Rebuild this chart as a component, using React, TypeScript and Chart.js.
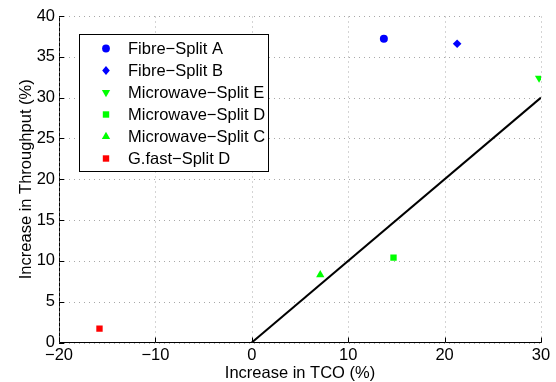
import React, { useEffect, useRef } from "react";
import { Chart, registerables } from "chart.js";

Chart.register(...registerables);

// ---- data ----
const seriesLabels = [
  "Fibre\u2212Split A",
  "Fibre\u2212Split B",
  "Microwave\u2212Split E",
  "Microwave\u2212Split D",
  "Microwave\u2212Split C",
  "G.fast\u2212Split D",
];
const tcoIncrease = [13.7, 21.3, 29.8, 14.7, 7.1, -15.8];
const throughputIncrease = [37.2, 36.6, 32.4, 10.4, 8.3, 1.7];
const refLineX = [0, 30];
const refLineY = [0, 30];
const xTicks = [-20, -10, 0, 10, 20, 30];
const yTicks = [0, 5, 10, 15, 20, 25, 30, 35, 40];

// ---- styles ----
const seriesColors = ["#0000ff", "#0000ff", "#00ff00", "#00ff00", "#00ff00", "#ff0000"];
const seriesShapes = ["circle", "diamond", "triDown", "square", "triUp", "square"];
const FONT = "'Liberation Sans', Arial, Helvetica, sans-serif";
const FS = 16.5;
const GRID_COLOR = "#a8a8a8";

function shapeProps(shape: string) {
  switch (shape) {
    case "circle":
      return { pointStyle: "circle", radius: 4, rotation: 0 };
    case "diamond":
      return { pointStyle: "rectRot", radius: 4.3, rotation: 0 };
    case "triDown":
      return { pointStyle: "triangle", radius: 4.8, rotation: 180 };
    case "triUp":
      return { pointStyle: "triangle", radius: 4.8, rotation: 0 };
    default:
      return { pointStyle: "rect", radius: 4.5, rotation: 0 };
  }
}

function drawMarker(ctx: CanvasRenderingContext2D, shape: string, x: number, y: number, color: string) {
  ctx.save();
  ctx.fillStyle = color;
  ctx.beginPath();
  if (shape === "circle") {
    ctx.arc(x, y, 3.9, 0, Math.PI * 2);
  } else if (shape === "diamond") {
    ctx.moveTo(x, y - 4.4);
    ctx.lineTo(x + 3.8, y);
    ctx.lineTo(x, y + 4.4);
    ctx.lineTo(x - 3.8, y);
    ctx.closePath();
  } else if (shape === "triDown") {
    const r = 4.8;
    ctx.moveTo(x, y + r);
    ctx.lineTo(x + r * 0.866, y - r / 2);
    ctx.lineTo(x - r * 0.866, y - r / 2);
    ctx.closePath();
  } else if (shape === "triUp") {
    const r = 4.8;
    ctx.moveTo(x, y - r);
    ctx.lineTo(x + r * 0.866, y + r / 2);
    ctx.lineTo(x - r * 0.866, y + r / 2);
    ctx.closePath();
  } else {
    const h = 3.2;
    ctx.rect(x - h, y - h, 2 * h, 2 * h);
  }
  ctx.fill();
  ctx.restore();
}

const fmt = (v: number) => (v < 0 ? "\u2212" + Math.abs(v) : String(v));

const gridPlugin = {
  id: "dottedGrid",
  beforeDatasetsDraw(chart: any) {
    const ctx: CanvasRenderingContext2D = chart.ctx;
    const xs = chart.scales.x;
    const ys = chart.scales.y;
    const a = chart.chartArea;
    ctx.save();
    ctx.strokeStyle = GRID_COLOR;
    ctx.lineWidth = 1;
    ctx.setLineDash([1, 4]);
    ctx.beginPath();
    xTicks.forEach((v) => {
      const px = Math.round(xs.getPixelForValue(v)) + 0.5;
      ctx.moveTo(px, a.bottom);
      ctx.lineTo(px, a.top);
    });
    yTicks.forEach((v) => {
      const py = Math.round(ys.getPixelForValue(v)) + 0.5;
      ctx.moveTo(a.left, py);
      ctx.lineTo(a.right, py);
    });
    ctx.stroke();
    ctx.restore();
  },
};

const extrasPlugin = {
  id: "extras",
  afterDraw(chart: any) {
    const ctx: CanvasRenderingContext2D = chart.ctx;
    const xs = chart.scales.x;
    const ys = chart.scales.y;
    const area = chart.chartArea;
    // inward ticks
    ctx.save();
    ctx.strokeStyle = "#000";
    ctx.lineWidth = 1;
    ctx.beginPath();
    xTicks.forEach((v) => {
      const px = Math.round(xs.getPixelForValue(v)) + 0.5;
      ctx.moveTo(px, area.bottom);
      ctx.lineTo(px, area.bottom - 5);
    });
    yTicks.forEach((v) => {
      const py = Math.round(ys.getPixelForValue(v)) + 0.5;
      ctx.moveTo(area.left, py);
      ctx.lineTo(area.left + 5, py);
    });
    ctx.stroke();
    ctx.restore();

    // legend box
    const bx = 79.5, by = 34.5, bw = 189, bh = 137;
    ctx.save();
    ctx.fillStyle = "#fff";
    ctx.fillRect(bx, by, bw, bh);
    ctx.strokeStyle = "#000";
    ctx.lineWidth = 1;
    ctx.strokeRect(bx, by, bw, bh);
    ctx.font = `${FS}px ${FONT}`;
    ctx.textBaseline = "middle";
    ctx.textAlign = "left";
    seriesLabels.forEach((lab, i) => {
      const cy = 48.5 + i * 22;
      drawMarker(ctx, seriesShapes[i], 106, cy, seriesColors[i]);
      ctx.fillStyle = "#000";
      ctx.fillText(lab, 128, cy + 1);
    });
    ctx.restore();
  },
};

export default function App() {
  const ref = useRef<HTMLCanvasElement | null>(null);
  useEffect(() => {
    document.body.style.margin = "0";
    if (!ref.current) return;
    const datasets: any[] = [
      {
        type: "line",
        label: "ref",
        data: refLineX.map((x, i) => ({ x, y: refLineY[i] })),
        borderColor: "#000",
        borderWidth: 2,
        pointRadius: 0,
        showLine: true,
        fill: false,
        order: 1,
      },
      ...seriesLabels.map((label, i) => {
        const sp = shapeProps(seriesShapes[i]);
        return {
          type: "scatter",
          label,
          data: [{ x: tcoIncrease[i], y: throughputIncrease[i] }],
          pointStyle: sp.pointStyle,
          pointRadius: sp.radius,
          pointRotation: sp.rotation,
          backgroundColor: seriesColors[i],
          borderColor: seriesColors[i],
          borderWidth: 0,
          order: 0,
        };
      }),
    ];
    const gridOpts = { display: false, drawTicks: false };
    const borderOpts = { display: true, color: "#000", width: 1 };
    const chart = new Chart(ref.current, {
      type: "scatter",
      data: { datasets },
      options: {
        animation: false,
        responsive: false,
        devicePixelRatio: 1,
        layout: { padding: { top: 16, right: 15, left: 0, bottom: 0 } },
        plugins: { legend: { display: false }, tooltip: { enabled: false } },
        scales: {
          x: {
            type: "linear",
            min: -20,
            max: 30,
            afterBuildTicks: (s: any) => {
              s.ticks = xTicks.map((v) => ({ value: v }));
            },
            afterFit: (s: any) => {
              s.height = 39.5;
              s.paddingLeft = 0;
              s.paddingRight = 0;
            },
            grid: gridOpts,
            border: borderOpts,
            ticks: {
              padding: 3,
              color: "#000",
              font: { family: FONT, size: FS },
              callback: (v: any) => fmt(Number(v)),
              maxRotation: 0,
            },
            title: {
              display: true,
              text: "Increase in TCO (%)",
              color: "#000",
              font: { family: FONT, size: FS, lineHeight: 1 },
              padding: { top: 0, bottom: 0.5 },
            },
          },
          y: {
            type: "linear",
            min: 0,
            max: 40,
            afterBuildTicks: (s: any) => {
              s.ticks = yTicks.map((v) => ({ value: v }));
            },
            afterFit: (s: any) => {
              s.width = 59;
            },
            grid: gridOpts,
            border: borderOpts,
            ticks: {
              padding: 4,
              color: "#000",
              font: { family: FONT, size: FS },
              callback: (v: any) => fmt(Number(v)),
            },
            title: {
              display: true,
              text: "Increase in Throughput (%)",
              color: "#000",
              font: { family: FONT, size: FS, lineHeight: 1 },
              padding: { top: 18, bottom: 0 },
            },
          },
        },
      },
      plugins: [gridPlugin, extrasPlugin],
    });
    return () => chart.destroy();
  }, []);
  return <canvas ref={ref} width={556} height={382} style={{ display: "block", width: 556, height: 382 }} />;
}
